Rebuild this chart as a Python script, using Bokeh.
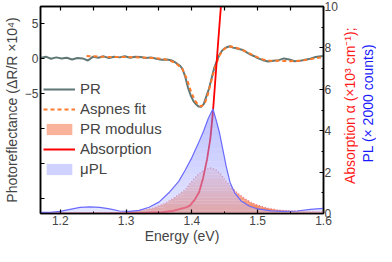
import numpy as np
from bokeh.plotting import figure
from bokeh.layouts import row
from bokeh.core.properties import value
from bokeh.models import Range1d, LinearAxis, FixedTicker, Legend, LegendItem
from bokeh.embed import file_html
from bokeh.resources import INLINE

# ---------------- data ----------------
pr_energy = [1.170, 1.178, 1.186, 1.194, 1.202, 1.210, 1.218, 1.226, 1.234, 1.242, 1.250, 1.258, 1.266,
             1.274, 1.282, 1.290, 1.298, 1.306, 1.314, 1.322, 1.330, 1.338, 1.346, 1.354, 1.362, 1.370,
             1.376, 1.382, 1.386, 1.390, 1.394, 1.398, 1.402, 1.406, 1.410, 1.414, 1.418, 1.422, 1.426,
             1.430, 1.434, 1.438, 1.442, 1.446, 1.450, 1.454, 1.458, 1.462, 1.466, 1.470, 1.476, 1.482,
             1.488, 1.494, 1.500, 1.508, 1.516, 1.524, 1.532, 1.540, 1.548, 1.556, 1.564, 1.572, 1.580,
             1.588, 1.596, 1.600]
pr_values = [0.1, 0.3, 0.0, 0.2, 0.05, 0.15, -0.1, 0.1, 0.05, -0.25, 0.3, 0.15, 0.35,
             0.1, 0.3, 0.2, 0.35, 0.15, 0.3, 0.25, 0.1, 0.2, 0.0, -0.15, -0.1, -0.25,
             -0.6, -1.0, -1.5, -2.6, -4.1, -5.2, -6.0, -6.5, -6.85, -6.9, -6.5, -5.4, -4.3,
             -2.8, -1.3, -0.3, 0.6, 1.2, 1.5, 1.7, 1.8, 1.6, 1.55, 1.45, 1.3, 1.0,
             0.65, 0.4, 0.1, -0.2, -0.4, -0.3, -0.2, 0.05, -0.1, -0.35, -0.3, -0.15, 0.0,
             0.25, 0.35, 0.4]

fit_energy = [1.240, 1.260, 1.280, 1.300, 1.320, 1.340, 1.355, 1.365, 1.375, 1.385, 1.392, 1.398,
              1.404, 1.410, 1.415, 1.420, 1.425, 1.430, 1.436, 1.442, 1.448, 1.454, 1.460, 1.468,
              1.476, 1.484, 1.492, 1.500, 1.510, 1.520, 1.535, 1.550, 1.565, 1.580, 1.600]
fit_values = [0.4, 0.3, 0.25, 0.25, 0.2, 0.1, 0.0, -0.2, -0.6, -1.4, -2.8, -4.5,
              -5.9, -6.7, -6.8, -6.3, -4.9, -3.0, -1.0, 0.5, 1.3, 1.7, 1.75, 1.55,
              1.3, 0.95, 0.55, 0.2, -0.15, -0.3, -0.3, -0.35, -0.3, -0.05, 0.25]

mod_energy = [1.240, 1.270, 1.300, 1.320, 1.340, 1.360, 1.375, 1.390, 1.400, 1.410, 1.420, 1.428,
              1.436, 1.444, 1.452, 1.460, 1.470, 1.480, 1.490, 1.500, 1.515, 1.530, 1.550, 1.575, 1.600]
mod_values = [0.0, 0.02, 0.07, 0.13, 0.25, 0.5, 0.8, 1.15, 1.55, 1.9, 2.12, 2.2,
              2.12, 1.9, 1.55, 1.25, 0.97, 0.72, 0.53, 0.4, 0.25, 0.17, 0.12, 0.1, 0.08]

abs_energy = [1.170, 1.250, 1.300, 1.330, 1.355, 1.370, 1.380, 1.390, 1.397, 1.404, 1.411, 1.417,
              1.423, 1.428, 1.432, 1.436, 1.440, 1.444, 1.448]
abs_values = [0.0, 0.0, 0.02, 0.04, 0.07, 0.12, 0.2, 0.28, 0.38, 0.65, 1.03, 1.7,
              2.6, 3.6, 4.9, 6.6, 8.3, 9.96, 11.5]

pl_energy = [1.170, 1.185, 1.200, 1.215, 1.230, 1.245, 1.260, 1.275, 1.290, 1.305, 1.320, 1.335,
             1.350, 1.365, 1.380, 1.390, 1.400, 1.410, 1.418, 1.425, 1.432, 1.437, 1.442, 1.447,
             1.452, 1.458, 1.465, 1.475, 1.487, 1.500, 1.520, 1.540, 1.560, 1.580, 1.600]
pl_values = [0.05, 0.06, 0.1, 0.2, 0.3, 0.32, 0.3, 0.22, 0.12, 0.1, 0.15, 0.3,
             0.55, 1.0, 1.55, 2.1, 2.7, 3.4, 4.0, 4.6, 5.05, 4.5, 3.9, 3.1,
             2.3, 1.5, 1.0, 0.6, 0.36, 0.22, 0.13, 0.1, 0.12, 0.2, 0.25]

x_ticks = [1.2, 1.3, 1.4, 1.5, 1.6]
x_minor = [1.25, 1.35, 1.45, 1.55]
top_ticks = [1.2, 1.25, 1.3, 1.35, 1.4, 1.45, 1.5, 1.55, 1.6]
left_ticks = [-5, 0, 5]
left_unlabeled_ticks = [-20, -15, -10]
right_ticks = [0, 2, 4, 6, 8, 10]
right_minor = [1, 3, 5, 7, 9]
right_titles = ["Absorption α (×10³ cm⁻¹);", "PL (× 2000 counts)"]
right_title_colors = ["#ff1a1a", "#1a1aff"]

FONT = "Liberation Sans"

# ---------------- main figure ----------------
p = figure(width=340, height=246, output_backend="svg", toolbar_location=None,
           x_range=Range1d(1.17, 1.6), y_range=Range1d(-22.2, 7.5),
           min_border_left=0, min_border_right=0, min_border_top=6, min_border_bottom=0)
p.extra_y_ranges = {"right": Range1d(0, 10)}
p.xgrid.visible = False
p.ygrid.visible = False
p.outline_line_color = "black"
p.outline_line_width = 1.5
p.background_fill_color = "white"
p.border_fill_color = "white"


def style_axis(ax):
    ax.axis_line_width = 1.5
    ax.axis_line_color = "black"
    ax.major_tick_in = 4
    ax.major_tick_out = 0
    ax.minor_tick_in = 2
    ax.minor_tick_out = 0
    ax.major_tick_line_width = 1.2
    ax.minor_tick_line_width = 1.0
    ax.major_label_text_font = FONT
    ax.major_label_text_font_size = "12px"
    ax.major_label_standoff = 2
    ax.axis_label_text_font = FONT
    ax.axis_label_text_font_size = "14px"
    ax.axis_label_text_font_style = "normal"
    ax.axis_label_standoff = 2


xa = p.xaxis[0]
xa.ticker = FixedTicker(ticks=x_ticks, minor_ticks=x_minor)
style_axis(xa)
xa.axis_label = "Energy (eV)"
xa.axis_label_standoff = 0

ya = p.yaxis[0]
ya.ticker = FixedTicker(ticks=left_ticks, minor_ticks=left_unlabeled_ticks)
style_axis(ya)
ya.minor_tick_in = 4
ya.minor_tick_line_width = 1.2
ya.axis_label = "Photoreflectance (ΔR/R ×10⁴)"

top = LinearAxis(ticker=FixedTicker(ticks=[], minor_ticks=top_ticks))
style_axis(top)
top.minor_tick_in = 4
top.minor_tick_line_width = 1.2
top.major_label_standoff = 0
p.add_layout(top, "above")

right = LinearAxis(y_range_name="right", ticker=FixedTicker(ticks=right_ticks, minor_ticks=right_minor))
style_axis(right)
right.major_label_standoff = 1
p.add_layout(right, "right")

# ---------------- glyphs ----------------
r_pr = p.line(pr_energy, pr_values, line_color="#5f7775", line_width=2)
r_fit = p.line(fit_energy, fit_values, line_color="#ff7a2a", line_width=2, line_dash="4 3")


def gradient_fill(xs, ys, n, c_bottom, c_top, alpha):
    xs = np.asarray(xs, dtype=float)
    ys = np.asarray(ys, dtype=float)
    ymax = ys.max()
    rs = []
    for k in range(n):
        lo = ymax * k / n
        hi = ymax * (k + 1) / n
        t = (k + 0.5) / n
        col = tuple(int(round(b + (c - b) * t)) for b, c in zip(c_bottom, c_top))
        rs.append(p.varea(x=xs, y1=np.minimum(ys, lo), y2=np.minimum(ys, hi),
                          fill_color="#%02x%02x%02x" % col, fill_alpha=alpha, y_range_name="right"))
    return rs


mod_bands = gradient_fill(mod_energy, mod_values, 14, (245, 125, 80), (255, 225, 220), 1.0)
p.line(mod_energy, mod_values, line_color="#ee6f7a", line_width=1.5, line_dash="1 2",
       y_range_name="right")

r_abs = p.line(abs_energy, abs_values, line_color="#ff0000", line_width=1.8, y_range_name="right")

pl_bands = gradient_fill(pl_energy, pl_values, 16, (205, 205, 255), (120, 130, 255), 0.5)
p.line(pl_energy, pl_values, line_color="#6a6aff", line_width=1.2, y_range_name="right")

legend = Legend(items=[
    LegendItem(label="PR", renderers=[r_pr]),
    LegendItem(label="Aspnes fit", renderers=[r_fit]),
    LegendItem(label="PR modulus", renderers=[mod_bands[7]]),
    LegendItem(label="Absorption", renderers=[r_abs]),
    LegendItem(label="μPL", renderers=[pl_bands[8]]),
], location=(3, 36))
legend.background_fill_alpha = 0
legend.border_line_color = None
legend.label_text_font = FONT
legend.label_text_font_size = "15px"
legend.glyph_width = 32
legend.glyph_height = 14
legend.label_height = 14
legend.spacing = 3
legend.padding = 0
legend.margin = 0
legend.label_standoff = 5
p.add_layout(legend)

# ---------------- right-hand two-colour title strip ----------------
t = figure(width=36, height=246, output_backend="svg", toolbar_location=None,
           x_range=Range1d(0, 36), y_range=Range1d(0, 246),
           x_axis_type=None, y_axis_type=None,
           min_border_left=0, min_border_right=0, min_border_top=0, min_border_bottom=0)
t.xgrid.visible = False
t.ygrid.visible = False
t.outline_line_color = None
t.background_fill_color = "white"
t.border_fill_color = "white"
t.text(x=[9, 27], y=[128, 131], text=right_titles, text_color=right_title_colors,
       angle=np.pi / 2, text_font=value(FONT), text_font_size=value("14px"),
       text_align="center", text_baseline="middle")

open("out.html", "w").write(file_html(row(p, t), INLINE))
